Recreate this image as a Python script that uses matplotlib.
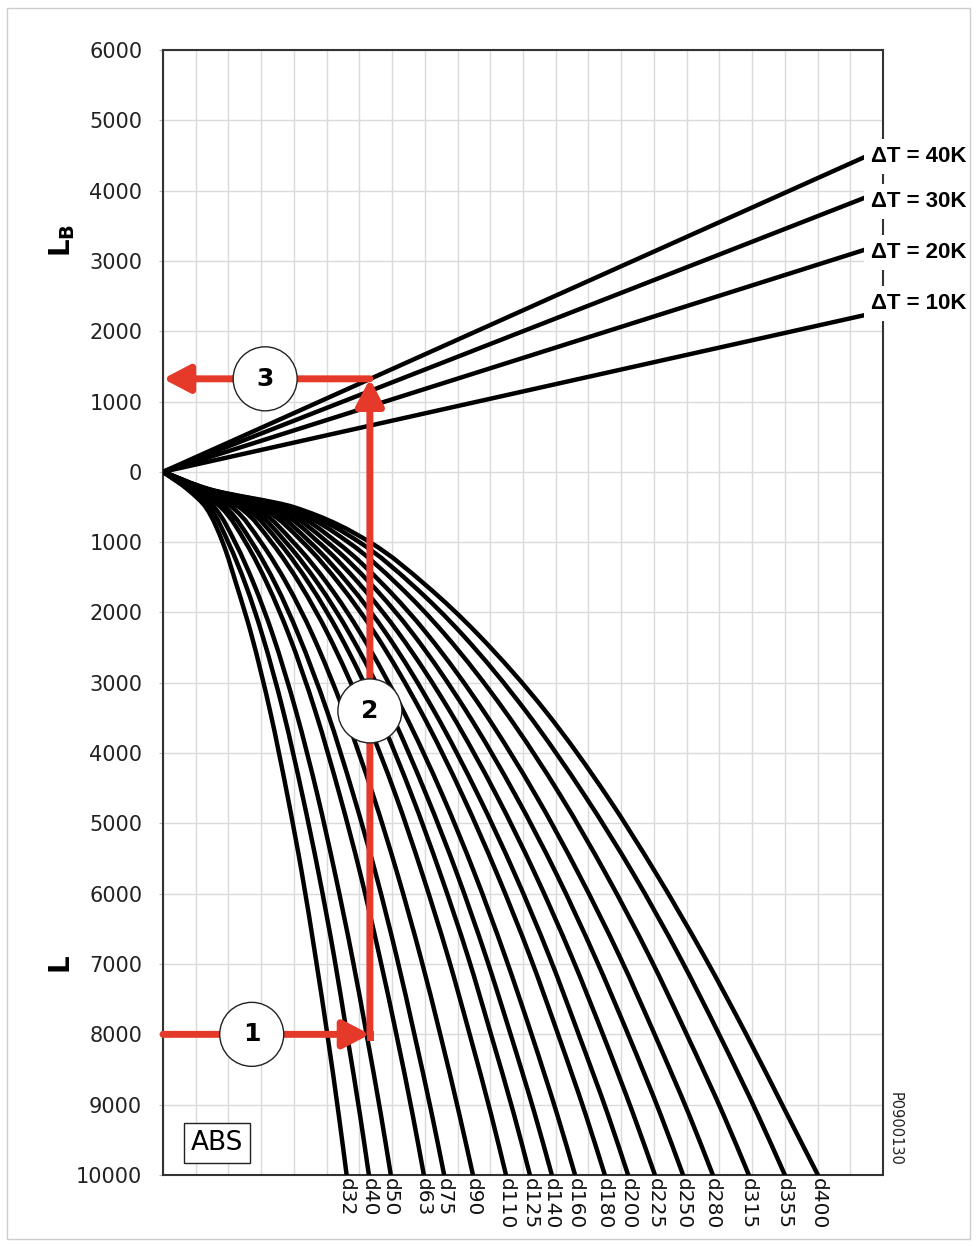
import matplotlib
matplotlib.use('Agg')
import numpy as np
import matplotlib.pyplot as plt
from matplotlib.patches import Rectangle, PathPatch
from matplotlib.path import Path

# pipe length levels (lower half, plotted downwards)
L_levels = [0, 250, 500, 1000, 1600, 2300, 3400, 4600, 5700, 6900, 8000, 9150, 10000]

# pipe diameters and their curves (x in grid columns)
diam_labels = ['d32', 'd40', 'd50', 'd63', 'd75', 'd90', 'd110', 'd125', 'd140',
               'd160', 'd180', 'd200', 'd225', 'd250', 'd280', 'd315', 'd355', 'd400']
x_d32 = [0, 0.75, 1.3, 1.82, 2.24, 2.69, 3.27, 3.8, 4.24, 4.66, 5.02, 5.37, 5.61]
x_d40 = [0, 0.8, 1.42, 1.99, 2.52, 3.02, 3.67, 4.26, 4.75, 5.23, 5.62, 6.02, 6.29]
x_d50 = [0, 0.85, 1.56, 2.2, 2.78, 3.34, 4.06, 4.72, 5.25, 5.78, 6.22, 6.66, 6.96]
x_d63 = [0, 0.9, 1.76, 2.52, 3.19, 3.83, 4.65, 5.4, 6.02, 6.62, 7.13, 7.63, 7.97]
x_d75 = [0, 0.95, 1.9, 2.71, 3.44, 4.12, 5.01, 5.82, 6.49, 7.14, 7.68, 8.22, 8.59]
x_d90 = [0, 1.0, 2.1, 2.99, 3.79, 4.55, 5.52, 6.42, 7.15, 7.87, 8.47, 9.06, 9.47]
x_d110 = [0, 1.05, 2.32, 3.31, 4.19, 5.03, 6.11, 7.11, 7.91, 8.71, 9.37, 10.03, 10.48]
x_d125 = [0, 1.1, 2.48, 3.54, 4.48, 5.38, 6.54, 7.6, 8.46, 9.32, 10.02, 10.73, 11.21]
x_d140 = [0, 1.14, 2.62, 3.75, 4.75, 5.7, 6.93, 8.05, 8.97, 9.87, 10.62, 11.37, 11.88]
x_d160 = [0, 1.18, 2.78, 3.98, 5.04, 6.04, 7.34, 8.54, 9.51, 10.46, 11.26, 12.05, 12.59]
x_d180 = [0, 1.22, 2.96, 4.27, 5.4, 6.48, 7.87, 9.15, 10.19, 11.22, 12.07, 12.92, 13.5]
x_d200 = [0, 1.26, 3.12, 4.49, 5.68, 6.82, 8.28, 9.63, 10.73, 11.81, 12.7, 13.6, 14.21]
x_d225 = [0, 1.29, 3.28, 4.75, 6.01, 7.21, 8.76, 10.19, 11.35, 12.49, 13.44, 14.38, 15.03]
x_d250 = [0, 1.32, 3.43, 5.02, 6.36, 7.63, 9.26, 10.77, 12.0, 13.2, 14.21, 15.21, 15.89]
x_d280 = [0, 1.35, 3.58, 5.31, 6.72, 8.06, 9.79, 11.39, 12.68, 13.96, 15.02, 16.08, 16.8]
x_d315 = [0, 1.38, 3.72, 5.66, 7.16, 8.59, 10.44, 12.14, 13.51, 14.87, 16.0, 17.13, 17.9]
x_d355 = [0, 1.41, 3.85, 6.0, 7.6, 9.12, 11.08, 12.88, 14.35, 15.79, 16.99, 18.18, 19.0]
x_d400 = [0, 1.44, 3.98, 6.32, 8.0, 9.6, 11.68, 13.55, 15.05, 16.55, 17.82, 19.08, 20.01]
diam_curves = [x_d32, x_d40, x_d50, x_d63, x_d75, x_d90, x_d110, x_d125, x_d140,
               x_d160, x_d180, x_d200, x_d225, x_d250, x_d280, x_d315, x_d355, x_d400]

# upper half: bending leg lines for each temperature difference
dt_labels = ['\u0394T = 10K', '\u0394T = 20K', '\u0394T = 30K', '\u0394T = 40K']
dt_x = [0, 21.45]
dt_lb_end = [2230, 3160, 3900, 4480]
dt_label_y = [2390, 3115, 3840, 4481]

# worked example: L = 8000, d40 -> LB for 40K
ex_L = 8000
ex_x = 6.32
ex_LB = 1323

red = '#e5392a'


def curve_path(xs, Ls):
    # smooth monotone cubic through the read points, drawn as bezier segments
    t = np.asarray(Ls, float)
    v = np.asarray(xs, float)
    h = np.diff(t)
    d = np.diff(v) / h
    m = np.zeros_like(t)
    m[0], m[-1] = d[0], d[-1]
    for i in range(1, len(t) - 1):
        if d[i - 1] * d[i] <= 0:
            m[i] = 0
        else:
            w1 = 2 * h[i] + h[i - 1]
            w2 = h[i] + 2 * h[i - 1]
            m[i] = (w1 + w2) / (w1 / d[i - 1] + w2 / d[i])
    verts = [(v[0], -t[0])]
    codes = [Path.MOVETO]
    for i in range(len(h)):
        verts += [(v[i] + m[i] * h[i] / 3, -(t[i] + h[i] / 3)),
                  (v[i + 1] - m[i + 1] * h[i] / 3, -(t[i + 1] - h[i] / 3)),
                  (v[i + 1], -t[i + 1])]
        codes += [Path.CURVE4] * 3
    return Path(verts, codes)


fig = plt.figure(figsize=(9.78, 12.46), dpi=100)
ax = fig.add_axes([0.1667, 0.0570, 0.7362, 0.9029])

ax.set_xlim(0, 22)
ax.set_ylim(-10000, 6000)
ax.set_xticks(range(0, 23))
ax.set_xticklabels([])
ax.tick_params(axis='x', length=0)
yt = list(range(-10000, 6001, 1000))
ax.set_yticks(yt)
ax.set_yticklabels([str(abs(v)) for v in yt], fontsize=15, color='#222222')
ax.tick_params(axis='y', length=3, color='#bbbbbb', pad=12)
ax.grid(color='#dadada', lw=1)
ax.set_axisbelow(True)
for s in ax.spines.values():
    s.set_color('#333333')
    s.set_linewidth(1.5)

# curves
for xs in diam_curves:
    ax.add_patch(PathPatch(curve_path(xs, L_levels), fill=False, edgecolor='black',
                           lw=3.2, capstyle='round', zorder=3))
for lb in dt_lb_end:
    ax.plot(dt_x, [0, lb], color='black', lw=3.2, solid_capstyle='butt', zorder=3)

# labels at curve ends
for lab, xs in zip(diam_labels, diam_curves):
    ax.annotate(lab, xy=(xs[-1], -L_levels[-1]), xytext=(0, -2),
                textcoords='offset points', rotation=-90, ha='center', va='top',
                fontsize=14.5, color='#111111', annotation_clip=False)
for lab, y in zip(dt_labels, dt_label_y):
    ax.text(21.62, y, lab, ha='left', va='center', fontsize=16, fontweight='bold',
            family='Liberation Sans', zorder=5, clip_on=False,
            bbox=dict(facecolor='white', edgecolor='none', pad=5))

# red example path
arw = dict(arrowstyle='-|>,head_length=0.8,head_width=0.42', color=red, lw=5,
           shrinkA=0, shrinkB=0, mutation_scale=20)
ax.annotate('', xy=(ex_x, -ex_L), xytext=(0, -ex_L), arrowprops=arw, zorder=6)
ax.plot([ex_x, ex_x], [-ex_L - 40, -ex_L], color=red, lw=5, zorder=6)
ax.annotate('', xy=(ex_x, ex_LB), xytext=(ex_x, -ex_L), arrowprops=arw, zorder=6)
ax.annotate('', xy=(0, ex_LB), xytext=(ex_x, ex_LB), arrowprops=arw, zorder=6)

circ = dict(boxstyle='circle,pad=0.8', facecolor='white', edgecolor='#222222', lw=1)
ax.text(2.71, -ex_L, '1', ha='center', va='center', fontsize=18, fontweight='bold',
        bbox=circ, zorder=8)
ax.text(ex_x, -3400, '2', ha='center', va='center', fontsize=18, fontweight='bold',
        bbox=circ, zorder=8)
ax.text(3.12, ex_LB, '3', ha='center', va='center', fontsize=18, fontweight='bold',
        bbox=circ, zorder=8)

ax.text(1.65, -9545, 'ABS', ha='center', va='center', fontsize=19, zorder=8,
        bbox=dict(boxstyle='square,pad=0.25', facecolor='white', edgecolor='#222222', lw=1))

ax.text(-0.14, 0.831, r'$\mathbf{L_B}$', transform=ax.transAxes, rotation=90,
        ha='center', va='center', fontsize=20)
ax.text(-0.14, 0.187, r'$\mathbf{L}$', transform=ax.transAxes, rotation=90,
        ha='center', va='center', fontsize=20)
ax.text(1.017, 0.041, 'P0900130', transform=ax.transAxes, rotation=-90,
        ha='center', va='center', fontsize=10.5, color='#222222')

fig.patches.append(Rectangle((0.0072, 0.0056), 0.985, 0.9880, transform=fig.transFigure,
                             fill=False, edgecolor='#cccccc', lw=1))

fig.savefig('out.png', dpi=100)
